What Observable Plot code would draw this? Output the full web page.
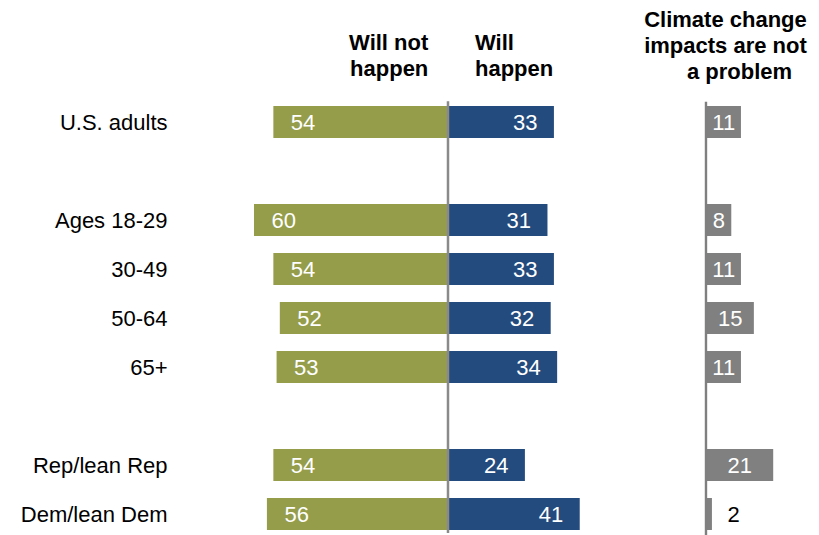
<!DOCTYPE html>
<html>
<head>
<meta charset="utf-8">
<script src="https://cdn.jsdelivr.net/npm/d3@7"></script>
<script src="https://cdn.jsdelivr.net/npm/@observablehq/plot@0.6"></script>
<style>
  html, body { margin: 0; padding: 0; background: #fff; }
  #wrap { position: relative; width: 819px; height: 535px; overflow: hidden; font-family: "Liberation Sans", Arial, sans-serif; }
  .hdr { position: absolute; font-family: "Liberation Sans", Arial, sans-serif; font-weight: bold; font-size: 22px; line-height: 26px; color: #000; white-space: nowrap; }
  #chart { position: absolute; left: 0; top: 0; }
</style>
</head>
<body>
<div id="wrap">
  <div id="chart"></div>
  <div class="hdr" style="right: 390.7px; top: 30.2px; text-align: right;">Will not<br>happen</div>
  <div class="hdr" style="left: 475px; top: 30.2px; text-align: left;">Will<br>happen</div>
  <div class="hdr" style="left: 644px; top: 7.4px; width: 163px; text-align: center;">Climate change<br>impacts are not<br><span style="padding-left: 28px;">a problem</span></div>
</div>
<script>
// ---- data ----
const groups = ["U.S. adults", "Ages 18-29", "30-49", "50-64", "65+", "Rep/lean Rep", "Dem/lean Dem"];
const willNotHappen = [54, 60, 54, 52, 53, 54, 56];
const willHappen = [33, 31, 33, 32, 34, 24, 41];
const notAProblem = [11, 8, 11, 15, 11, 21, 2];
const rowOrder = ["U.S. adults", "gap1", "Ages 18-29", "30-49", "50-64", "65+", "gap2", "Rep/lean Rep", "Dem/lean Dem"];

// ---- layout ----
const GRAY_OFFSET = 80; // baseline of the third panel, in x units
const green = "#959D4B", blue = "#234B7D", gray = "#808080";

const rows = groups.map((g, i) => ({
  group: g,
  willNot: willNotHappen[i],
  will: willHappen[i],
  notProb: notAProblem[i]
}));

const chart = Plot.plot({
  width: 819,
  height: 535,
  marginLeft: 175,
  marginRight: 0,
  marginTop: 103.3,
  marginBottom: 3.1,
  style: { fontFamily: "'Liberation Sans', Arial, sans-serif", fontSize: "22px", color: "#000", background: "#fff", overflow: "visible" },
  x: { domain: [-84.5, 115.2], axis: null },
  y: { domain: rowOrder, paddingInner: 0.345, paddingOuter: 0, label: null },
  marks: [
    Plot.axisY({ tickSize: 0, tickPadding: 8, fontSize: 22, fill: "#000", tickFormat: d => d.startsWith("gap") ? "" : d, label: null }),
    Plot.barX(rows, { y: "group", x1: d => -d.willNot, x2: 0, fill: green }),
    Plot.barX(rows, { y: "group", x1: 0, x2: d => d.will, fill: blue }),
    Plot.barX(rows, { y: "group", x1: GRAY_OFFSET, x2: d => GRAY_OFFSET + d.notProb, fill: gray }),
    Plot.ruleX([0], { stroke: "#8a8a8a", strokeWidth: 2.5, insetTop: -2, insetBottom: -1 }),
    Plot.ruleX([GRAY_OFFSET], { stroke: "#7f7f7f", strokeWidth: 2.4, insetTop: -1.5, insetBottom: -3 }),
    Plot.text(rows, { y: "group", x: d => -d.willNot, text: d => String(d.willNot), textAnchor: "start", dx: 17, fill: "#fff", fontSize: 22 }),
    Plot.text(rows, { y: "group", x: d => d.will, text: d => String(d.will), textAnchor: "end", dx: -17, fill: "#fff", fontSize: 22 }),
    Plot.text(rows.filter(d => d.notProb >= 5), { y: "group", x: d => GRAY_OFFSET + d.notProb / 2, text: d => String(d.notProb), textAnchor: "middle", fill: "#fff", fontSize: 22 }),
    Plot.text(rows.filter(d => d.notProb < 5), { y: "group", x: d => GRAY_OFFSET + d.notProb, text: d => String(d.notProb), textAnchor: "start", dx: 15, fill: "#000", fontSize: 22 })
  ]
});
document.getElementById("chart").appendChild(chart);
</script>
</body>
</html>
